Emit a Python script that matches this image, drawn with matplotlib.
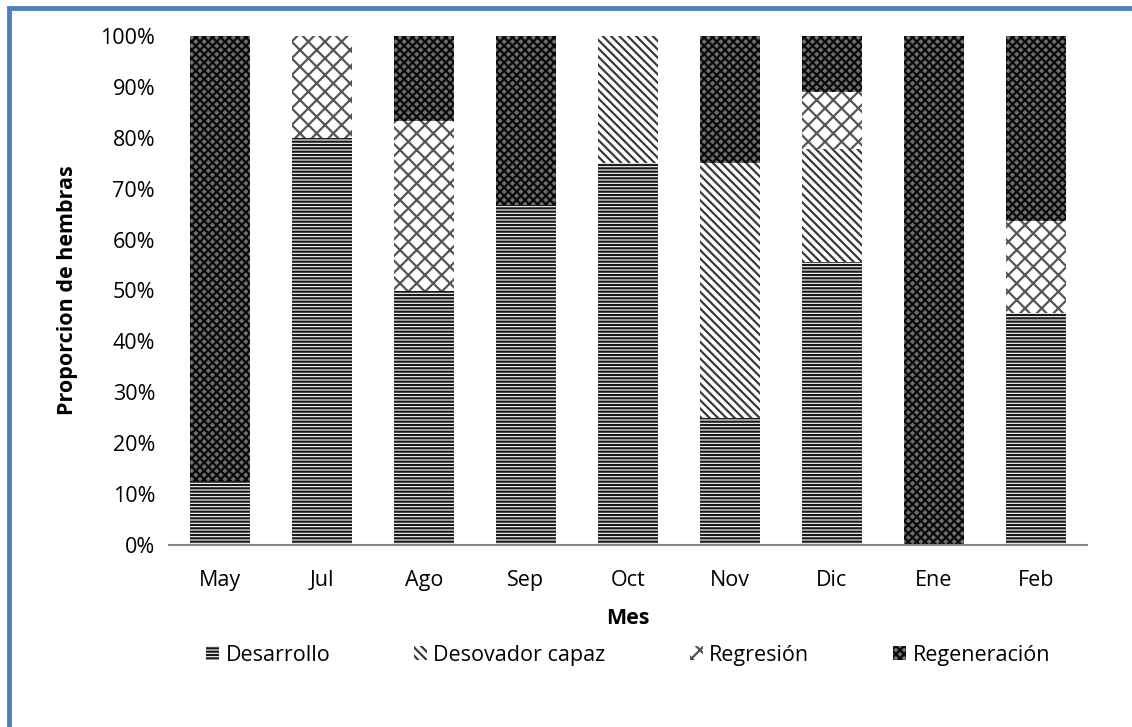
import numpy as np
import matplotlib.pyplot as plt
from matplotlib.lines import Line2D

plt.rcParams['font.family'] = ['Open Sans', 'DejaVu Sans']
plt.rcParams['hatch.linewidth'] = 1.6

meses = ['May', 'Jul', 'Ago', 'Sep', 'Oct', 'Nov', 'Dic', 'Ene', 'Feb']
desarrollo = [12.5, 80.0, 50.0, 66.7, 75.0, 25.0, 55.6, 0.0, 45.5]
desovador = [0.0, 0.0, 0.0, 0.0, 25.0, 50.0, 22.2, 0.0, 0.0]
regresion = [0.0, 20.0, 33.3, 0.0, 0.0, 0.0, 11.1, 0.0, 18.2]
regeneracion = [87.5, 0.0, 16.7, 33.3, 0.0, 25.0, 11.1, 100.0, 36.3]

series = [
    ('Desarrollo', desarrollo, dict(facecolor='white', edgecolor='#1a1a1a', hatch='-----')),
    ('Desovador capaz', desovador, dict(facecolor='white', edgecolor='#3a3a3a', hatch='\\\\\\\\')),
    ('Regresión', regresion, dict(facecolor='white', edgecolor='#555555', hatch='xx')),
    ('Regeneración', regeneracion, dict(facecolor='#6e6e6e', edgecolor='#0a0a0a', hatch='xxxx')),
]

fig = plt.figure(figsize=(11.32, 7.27), dpi=100)
ax = fig.add_axes([169 / 1132, 1 - 545 / 727, 918 / 1132, 509 / 727])

x = np.arange(len(meses))
bottom = np.zeros(len(meses))
for name, vals, style in series:
    vals = np.array(vals)
    ax.bar(x, vals, width=0.59, bottom=bottom, label=name, linewidth=0, **style)
    bottom += vals

ax.set_xlim(-0.5, len(meses) - 0.5)
ax.set_ylim(0, 100)
ax.set_yticks(np.arange(0, 101, 10))
ax.set_yticklabels([f'{v}%' for v in range(0, 101, 10)])
ax.set_xticks(x)
ax.set_xticklabels(meses)
ax.tick_params(axis='both', length=0, labelsize=15.5, pad=10)
ax.tick_params(axis='x', pad=18)
for s in ['top', 'right', 'left']:
    ax.spines[s].set_visible(False)
ax.spines['bottom'].set_color('#868686')
ax.spines['bottom'].set_linewidth(1.5)

ax.set_xlabel('Mes', fontsize=15.5, fontweight='bold', labelpad=12)
ax.set_ylabel('Proporcion de hembras', fontsize=15.5, fontweight='bold', labelpad=16)

ax.legend(loc='upper center', bbox_to_anchor=(0.5, -0.158), ncol=4, frameon=False,
          fontsize=15.5, handlelength=0.6, handleheight=0.6, handletextpad=0.3,
          columnspacing=3.9)

# marco azul
fx = 9 / 1132
fy = 1 - 8 / 727
fig.add_artist(Line2D([fx, fx, 1], [0, fy, fy], transform=fig.transFigure,
                      color='#4f81bd', linewidth=3.5, solid_joinstyle='miter'))

fig.savefig('out.png', dpi=100)
